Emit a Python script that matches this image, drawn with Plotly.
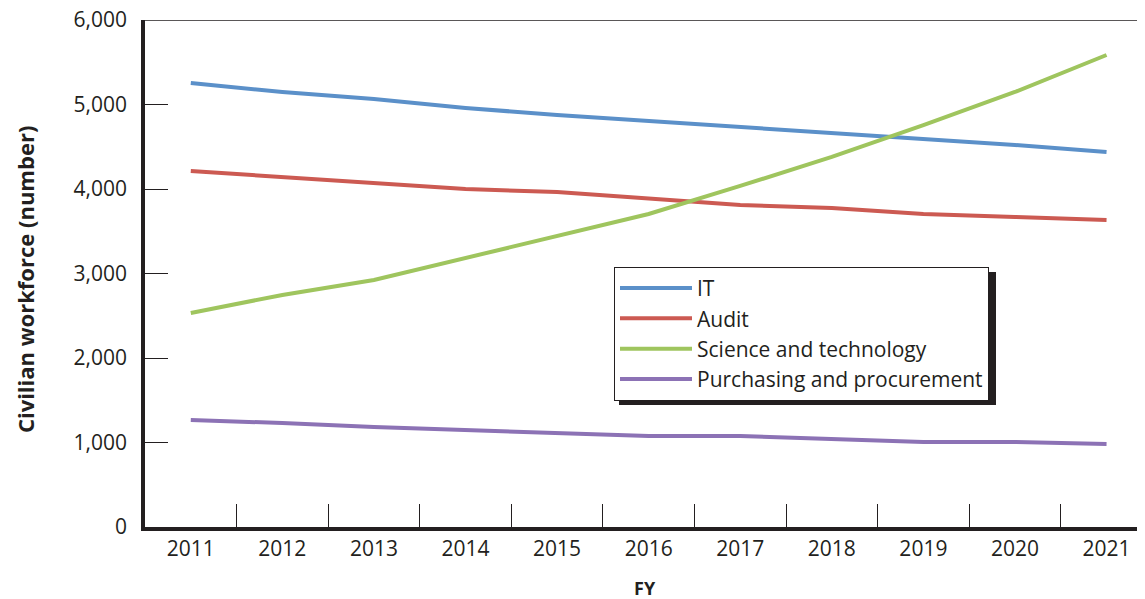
import plotly.graph_objects as go

years = ["2011", "2012", "2013", "2014", "2015", "2016", "2017", "2018", "2019", "2020", "2021"]
it_vals = [5254, 5148, 5065, 4959, 4876, 4805, 4734, 4663, 4592, 4521, 4438]
audit_vals = [4213, 4142, 4071, 4000, 3964, 3882, 3811, 3775, 3704, 3669, 3633]
sci_vals = [2533, 2746, 2923, 3183, 3444, 3704, 4036, 4379, 4757, 5148, 5586]
purch_vals = [1266, 1231, 1183, 1148, 1112, 1077, 1077, 1041, 1006, 1006, 982]
y_ticks = [0, 1000, 2000, 3000, 4000, 5000, 6000]
y_tick_labels = ["0", "1,000", "2,000", "3,000", "4,000", "5,000", "6,000"]

series = [
    ("IT", it_vals, "#5b90c9"),
    ("Audit", audit_vals, "#cc5a52"),
    ("Science and technology", sci_vals, "#9fc55e"),
    ("Purchasing and procurement", purch_vals, "#8c72b5"),
]

fig = go.Figure()
for name, vals, color in series:
    fig.add_trace(go.Scatter(x=years, y=vals, name=name, mode="lines",
                             line=dict(color=color, width=4)))

# empty helper trace so the overlaid label axis gets drawn
fig.add_trace(go.Scatter(x=years, y=[None] * len(years), yaxis="y2", mode="lines",
                         showlegend=False, hoverinfo="skip"))

font_family = "Open Sans, Noto Sans, sans-serif"
ink = "#231f20"

# page body has an 8px margin, so the figure is 8px smaller than the window
fig.update_layout(
    width=1137, height=591,
    margin=dict(l=137, r=0, t=12, b=72),
    plot_bgcolor="white", paper_bgcolor="white",
    font=dict(family=font_family, size=21, color=ink),
    showlegend=True,
    legend=dict(x=0.469, y=0.513, xanchor="left", yanchor="top",
                bgcolor="white", bordercolor=ink, borderwidth=1,
                font=dict(size=21), tracegroupgap=0, itemwidth=72),
    xaxis=dict(type="category", range=[-0.5, 10.42], tickson="boundaries",
               ticks="inside", ticklen=23, tickwidth=1.3, tickcolor=ink,
               showline=True, linecolor=ink, linewidth=4,
               showgrid=False, zeroline=False, automargin=False,
               tickfont=dict(size=21)),
    # axis carrying the inside ticks and the thick line
    yaxis=dict(range=[0, 6000], tickvals=y_ticks, showticklabels=False,
               ticks="inside", ticklen=23, tickwidth=1.3, tickcolor=ink,
               showline=True, linecolor=ink, linewidth=4,
               showgrid=False, zeroline=False, automargin=False),
    # overlaid axis carrying the tick labels
    yaxis2=dict(range=[0, 6000], tickvals=y_ticks, ticktext=y_tick_labels,
                overlaying="y", side="left", anchor="x", ticks="",
                showline=False, showgrid=False, zeroline=False, automargin=False,
                ticklabelstandoff=17, ticklabeloverflow="allow",
                tickfont=dict(size=21)),
)

# axis titles
fig.add_annotation(text="<b>Civilian workforce (number)</b>", xref="paper", yref="paper",
                   x=0, y=0.487, xanchor="center", yanchor="middle", xshift=-120,
                   textangle=-90, showarrow=False, font=dict(size=22, color=ink))
fig.add_annotation(text="<b>FY</b>", xref="paper", yref="paper",
                   x=0.5, y=0, xanchor="center", yanchor="middle", yshift=-61,
                   showarrow=False, font=dict(size=18, color=ink))

# top border line
fig.add_shape(type="line", xref="paper", yref="y", x0=0, x1=1, y0=6000, y1=6000,
              line=dict(color=ink, width=1.5))

# legend drop shadow
fig.add_shape(type="rect", xref="paper", yref="paper",
              x0=0.474, x1=0.851, y0=0.2406, y1=0.503,
              fillcolor=ink, line=dict(width=0), layer="above")

fig.write_html("out.html")
